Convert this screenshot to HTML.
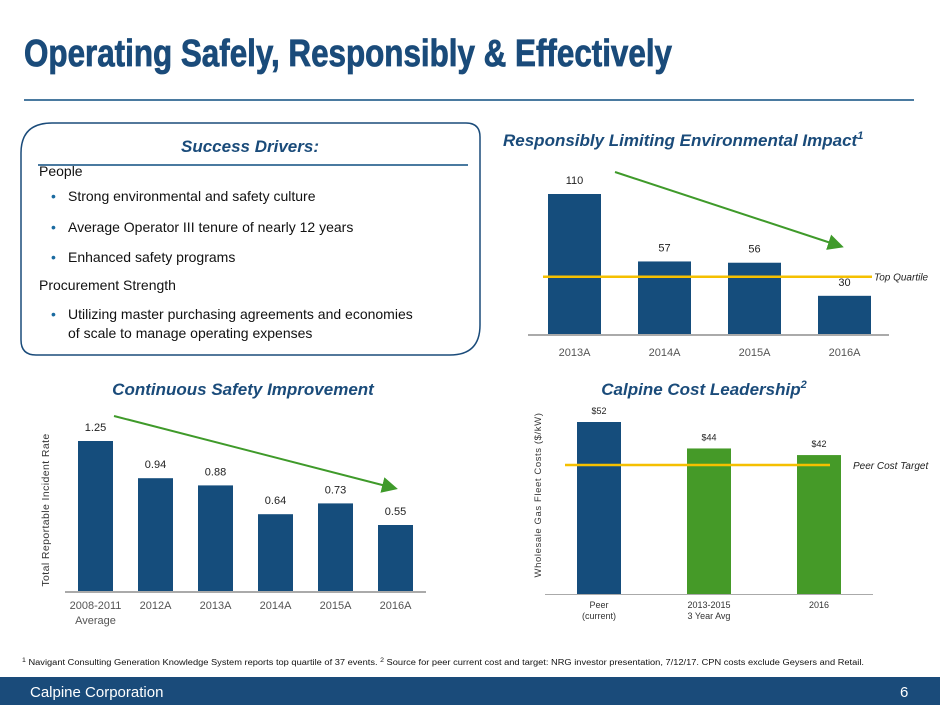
<!DOCTYPE html>
<html><head><meta charset="utf-8"><style>
body{margin:0;width:940px;height:705px;overflow:hidden;background:#fff;font-family:"Liberation Sans",sans-serif;}
svg text{font-family:"Liberation Sans",sans-serif;}
</style></head><body>
<svg width="940" height="705" viewBox="0 0 940 705">
<defs><marker id="ah" markerWidth="8" markerHeight="8" refX="6" refY="4" orient="auto"><path d="M0,0 L8,4 L0,8 z" fill="#3f9a2a"/></marker></defs>
<text x="24" y="66" font-size="38" font-weight="bold" fill="#1a4b7a" stroke="#1a4b7a" stroke-width="0.8" textLength="648" lengthAdjust="spacingAndGlyphs">Operating Safely, Responsibly &amp; Effectively</text>
<rect x="24" y="99" width="890" height="2" fill="#4a7aa0"/>

<g>
<path d="M52,123 H466 Q480,123 480,137 V325 Q480,355 450,355 H36 Q21,355 21,340 V153 Q21,123 52,123 Z" fill="none" stroke="#1a4b7a" stroke-width="1.5"/>
<text x="250" y="152" font-size="17" font-weight="bold" font-style="italic" fill="#1a4b7a" text-anchor="middle">Success Drivers:</text>
<rect x="38" y="164" width="430" height="2" fill="#4a7aa0"/>
<g font-size="14" fill="#111">
<text x="39" y="173" dy="3">People</text>
<text x="51" y="201" fill="#1a6aa0">•</text><text x="68" y="201">Strong environmental and safety culture</text>
<text x="51" y="232" fill="#1a6aa0">•</text><text x="68" y="232">Average Operator III tenure of nearly 12 years</text>
<text x="51" y="262" fill="#1a6aa0">•</text><text x="68" y="262">Enhanced safety programs</text>
<text x="39" y="290">Procurement Strength</text>
<text x="51" y="319" fill="#1a6aa0">•</text><text x="68" y="319">Utilizing master purchasing agreements and economies</text>
<text x="68" y="338">of scale to manage operating expenses</text>
</g></g>

<text x="503" y="146" font-size="17" font-weight="bold" font-style="italic" fill="#1a4b7a">Responsibly Limiting Environmental Impact<tspan font-size="11" dy="-7">1</tspan></text>
<g id="env"></g>

<text x="243" y="395" font-size="17" font-weight="bold" font-style="italic" fill="#1a4b7a" text-anchor="middle">Continuous Safety Improvement</text>
<g id="safety"></g>
<text transform="translate(49,510) rotate(-90)" font-size="10.5" fill="#333" text-anchor="middle" letter-spacing="0.4">Total Reportable Incident Rate</text>

<text x="704" y="395" font-size="17" font-weight="bold" font-style="italic" fill="#1a4b7a" text-anchor="middle">Calpine Cost Leadership<tspan font-size="11" dy="-7">2</tspan></text>
<g id="cost"></g>
<text transform="translate(541,495) rotate(-90)" font-size="9.5" fill="#333" text-anchor="middle" letter-spacing="0.6">Wholesale Gas Fleet Costs ($/kW)</text>

<text x="22" y="665" font-size="8" fill="#111" textLength="842" lengthAdjust="spacingAndGlyphs"><tspan font-size="6" dy="-3">1</tspan><tspan dy="3"> Navigant Consulting Generation Knowledge System reports top quartile of 37 events. </tspan><tspan font-size="6" dy="-3">2</tspan><tspan dy="3"> Source for peer current cost and target: NRG investor presentation, 7/12/17. CPN costs exclude Geysers and Retail.</tspan></text>
<rect x="0" y="677" width="940" height="28" fill="#1a4b7a"/>
<text x="30" y="697" font-size="15" fill="#fff">Calpine Corporation</text>
<text x="900" y="697" font-size="15" fill="#fff">6</text>
</svg>
<script>
const envCats=["2013A","2014A","2015A","2016A"];
const envVals=[110,57,56,30];
const envTarget=45;
const safetyCats=[["2008-2011","Average"],["2012A"],["2013A"],["2014A"],["2015A"],["2016A"]];
const safetyVals=[1.25,0.94,0.88,0.64,0.73,0.55];
const costCats=[["Peer","(current)"],["2013-2015","3 Year Avg"],["2016"]];
const costVals=[52,44,42];
const costLabels=["$52","$44","$42"];
const costTarget=39;
const NS="http://www.w3.org/2000/svg";
function mk(p,t,a){const e=document.createElementNS(NS,t);for(const k in a)e.setAttribute(k,a[k]);p.appendChild(e);return e;}

(function(){const g=document.getElementById('env');
const base=334,k=140/110,x0=548,step=90,w=53;const y=v=>base-v*k;
mk(g,'rect',{x:528,y:334,width:361,height:2,fill:'#aaa'});
envVals.forEach((v,i)=>{const x=x0+i*step;
const r=mk(g,'rect',{x:x,y:y(v),width:w,height:base-y(v),fill:'#154d7c'});


mk(g,'text',{x:x+w/2,y:y(v)-10,'font-size':11,fill:'#222','text-anchor':'middle'}).textContent=v;
mk(g,'text',{x:x+w/2,y:356,'font-size':11,fill:'#555','text-anchor':'middle'}).textContent=envCats[i];});
const ln=mk(g,'line',{x1:543,x2:872,y1:y(envTarget),y2:y(envTarget),stroke:'#f5c000','stroke-width':2.5});


mk(g,'text',{x:874,y:y(envTarget)+4,'font-size':10,'font-style':'italic',fill:'#222'}).textContent='Top Quartile';
mk(g,'line',{x1:615,y1:172,x2:840,y2:246,stroke:'#3f9a2a','stroke-width':2,'marker-end':'url(#ah)'});
})();

(function(){const g=document.getElementById('safety');
const base=591,k=120,x0=78,step=60,w=35;const y=v=>base-v*k;
mk(g,'rect',{x:65,y:591,width:361,height:2,fill:'#aaa'});
safetyVals.forEach((v,i)=>{const x=x0+i*step;
const r=mk(g,'rect',{x:x,y:y(v),width:w,height:base-y(v),fill:'#154d7c'});


mk(g,'text',{x:x+w/2,y:y(v)-10,'font-size':11,fill:'#222','text-anchor':'middle'}).textContent=v.toFixed(2);
safetyCats[i].forEach((l,j)=>{mk(g,'text',{x:x+w/2,y:609+j*15,'font-size':11,fill:'#555','text-anchor':'middle'}).textContent=l;});});
mk(g,'line',{x1:114,y1:416,x2:394,y2:488,stroke:'#3f9a2a','stroke-width':2,'marker-end':'url(#ah)'});
})();

(function(){const g=document.getElementById('cost');
const base=594,k=172/52,x0=577,step=110,w=44;const y=v=>base-v*k;
mk(g,'rect',{x:545,y:594,width:328,height:1,fill:'#aaa'});
costVals.forEach((v,i)=>{const x=x0+i*step;
const r=mk(g,'rect',{x:x,y:y(v),width:w,height:base-y(v),fill:i==0?'#154d7c':'#459a28'});


mk(g,'text',{x:x+w/2,y:y(v)-8,'font-size':9,fill:'#222','text-anchor':'middle'}).textContent=costLabels[i];
costCats[i].forEach((l,j)=>{mk(g,'text',{x:x+w/2,y:608+j*11,'font-size':9,fill:'#333','text-anchor':'middle'}).textContent=l;});});
const ln=mk(g,'line',{x1:565,x2:830,y1:y(costTarget),y2:y(costTarget),stroke:'#f5c000','stroke-width':2.5});


mk(g,'text',{x:853,y:y(costTarget)+4,'font-size':10,'font-style':'italic',fill:'#222'}).textContent='Peer Cost Target';
})();
</script>
</body></html>
